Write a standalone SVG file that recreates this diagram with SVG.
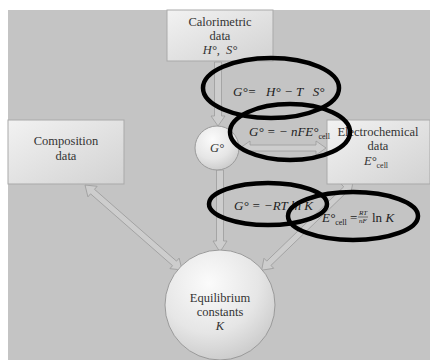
<svg xmlns="http://www.w3.org/2000/svg" width="430" height="360" viewBox="0 0 430 360">
<defs>
<linearGradient id="boxg" x1="0" y1="0" x2="1" y2="1">
<stop offset="0" stop-color="#f2f2f2"/>
<stop offset="1" stop-color="#d2d2d2"/>
</linearGradient>
<radialGradient id="ballg" cx="0.4" cy="0.3" r="0.75">
<stop offset="0" stop-color="#fbfbfb"/>
<stop offset="0.6" stop-color="#e6e6e6"/>
<stop offset="1" stop-color="#c9c9c9"/>
</radialGradient>
</defs>
<style>
.box{fill:url(#boxg);stroke:#a9a9a9;stroke-width:1}
.ball{fill:url(#ballg);stroke:#9a9a9a;stroke-width:1}
text{font-family:"Liberation Serif",serif}
.lbl{font-size:12.5px;fill:#333;text-anchor:middle}
.it{font-style:italic}
.eq{font-size:13px;fill:#222;font-style:italic}
.sub{font-size:8px;font-style:normal}
.frac{font-size:7px;fill:#222;font-style:italic;text-anchor:middle}
.arr{fill:#cdcdcd;stroke:#9c9c9c;stroke-width:0.8}
.ring{fill:none;stroke:#000;stroke-width:4.5}
</style>
<rect x="0" y="0" width="430" height="360" fill="#ffffff"/>
<rect x="8" y="10" width="422" height="350" fill="#c4c4c4"/>

<g id="connectors">
<polygon class="arr" transform="translate(218,62) rotate(90)" points="0,-3.5 54,-3.5 54,-7 64,0 54,7 54,3.5 0,3.5"/>
<polygon class="arr" transform="translate(240,148) rotate(0)" points="0,0 10,-7 10,-3 76,-3 76,-7 86,0 76,7 76,3 10,3 10,7"/>
<polygon class="arr" transform="translate(220,170) rotate(90)" points="0,-3.5 71,-3.5 71,-7 82,0 71,7 71,3.5 0,3.5"/>
<polygon class="arr" transform="translate(85,185) rotate(41.2)" points="0,0 10,-7 10,-3 119,-3 119,-7 129,0 119,7 119,3 10,3 10,7"/>
<polygon class="arr" transform="translate(353,182) rotate(136)" points="0,0 10,-7 10,-3 117,-3 117,-7 127,0 117,7 117,3 10,3 10,7"/>
</g>

<g id="calorimetric">
<rect class="box" x="167" y="10" width="106" height="51"/>
<text class="lbl" x="220" y="26">Calorimetric</text>
<text class="lbl" x="220" y="40">data</text>
<text class="lbl it" x="220" y="54" xml:space="preserve">H°,  S°</text>
</g>

<g id="composition">
<rect class="box" x="8" y="120" width="116" height="64"/>
<text class="lbl" x="66" y="145">Composition</text>
<text class="lbl" x="66" y="160">data</text>
</g>

<g id="electrochemical">
<rect class="box" x="327" y="120" width="103" height="64"/>
<text class="lbl" x="378" y="136">Electrochemical</text>
<text class="lbl" x="378" y="150">data</text>
<text class="lbl it" x="376" y="165">E°<tspan class="sub" dy="3">cell</tspan></text>
</g>

<g id="gibbs">
<circle class="ball" cx="217" cy="148" r="22"/>
<text class="lbl it" x="217" y="152">G°</text>
</g>

<g id="equilibrium">
<circle class="ball" cx="220" cy="305" r="55"/>
<text class="lbl" x="220" y="302">Equilibrium</text>
<text class="lbl" x="220" y="316">constants</text>
<text class="lbl it" x="220" y="330">K</text>
</g>

<g id="equations">
<text class="eq" x="233" y="96" xml:space="preserve">G°=   H° − T   S°</text>
<text class="eq" x="249" y="136">G° = − nFE°<tspan class="sub" dy="3">cell</tspan></text>
<text class="eq" x="234" y="210">G° = −RT ln K</text>
<text class="eq" x="322" y="222">E°<tspan class="sub" dy="3">cell</tspan><tspan dy="-3" font-style="normal"> = </tspan></text>
<text class="frac" x="363" y="215">RT</text>
<line x1="358" y1="217" x2="368" y2="217" stroke="#333" stroke-width="0.6"/>
<text class="frac" x="363" y="223">nF</text>
<text class="eq" x="372" y="222"><tspan font-style="normal">ln</tspan> K</text>
</g>

<g id="highlights">
<ellipse class="ring" cx="271" cy="88" rx="68" ry="30"/>
<ellipse class="ring" cx="290" cy="132" rx="60" ry="28"/>
<ellipse class="ring" cx="268" cy="204" rx="59" ry="21"/>
<ellipse class="ring" cx="353" cy="216" rx="65" ry="24"/>
</g>
</svg>
